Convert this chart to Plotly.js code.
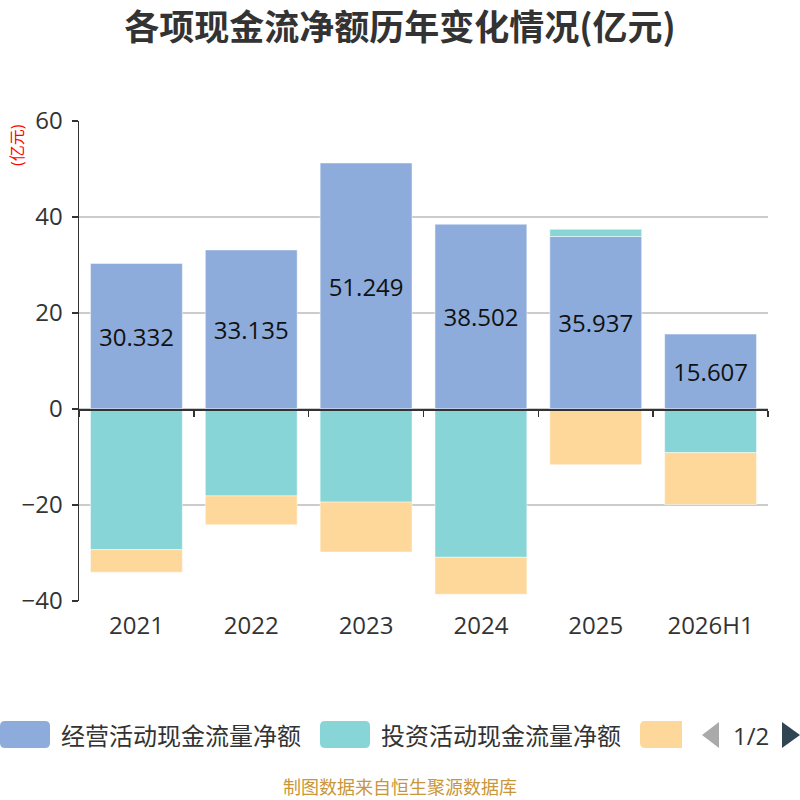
<!DOCTYPE html>
<html>
<head>
<meta charset="utf-8">
<script src="https://cdn.plot.ly/plotly-3.0.1.min.js"></script>
<style>html,body{margin:0;padding:0;background:#fff;}#chart{width:800px;height:800px;}</style>
</head>
<body>
<div id="chart"></div>
<script>
const years = ["2021", "2022", "2023", "2024", "2025", "2026H1"];
const operating = [30.332, 33.135, 51.249, 38.502, 35.937, 15.607];
const investing = [-29.3, -18.1, -19.4, -30.9, 1.5, -9.1];
const financing = [-4.7, -6.0, -10.4, -7.7, -11.6, -10.8];
const seriesNames = ["经营活动现金流量净额", "投资活动现金流量净额", "筹资活动现金流量净额"];
const colors = ["#8eacdb", "#88d5d8", "#fed89b"];

const FONT = "'Open Sans', 'Noto Sans CJK SC', sans-serif";
const W = 800, H = 800, L = 79, R = 32, T = 121, B = 199;
const pw = W - L - R, ph = H - T - B;
const px = v => (v - L) / pw;
const py = v => (H - B - v) / ph;

// rounded rectangle path in paper coords, from pixel box
function roundRect(x0, y0, x1, y1, r, roundRight) {
  const rr = roundRight ? r : 0;
  return `M${px(x0 + r)},${py(y0)} L${px(x1 - rr)},${py(y0)} Q${px(x1)},${py(y0)} ${px(x1)},${py(y0 + rr)} ` +
         `L${px(x1)},${py(y1 - rr)} Q${px(x1)},${py(y1)} ${px(x1 - rr)},${py(y1)} ` +
         `L${px(x0 + r)},${py(y1)} Q${px(x0)},${py(y1)} ${px(x0)},${py(y1 - r)} ` +
         `L${px(x0)},${py(y0 + r)} Q${px(x0)},${py(y0)} ${px(x0 + r)},${py(y0)} Z`;
}

const edge = {color: "rgba(255,255,255,0.6)", width: 0.8};
const traces = [
  {type: "bar", name: seriesNames[0], x: years, y: operating, marker: {color: colors[0], line: edge},
   text: operating.map(v => v.toFixed(3)), textposition: "inside", insidetextanchor: "middle",
   textfont: {size: 24, color: "#111", family: FONT}, constraintext: "none", showlegend: false},
  {type: "bar", name: seriesNames[1], x: years, y: investing, marker: {color: colors[1], line: edge}, showlegend: false},
  {type: "bar", name: seriesNames[2], x: years, y: financing, marker: {color: colors[2], line: edge}, showlegend: false},
  {type: "scatter", x: years, y: years.map(() => null), xaxis: "x2", yaxis: "y", mode: "markers",
   hoverinfo: "skip", showlegend: false}
];

const shapes = [
  {type: "path", xref: "paper", yref: "paper", path: roundRect(0, 721, 50, 748, 5, true), fillcolor: colors[0], line: {width: 0}},
  {type: "path", xref: "paper", yref: "paper", path: roundRect(320, 721, 370, 748, 5, true), fillcolor: colors[1], line: {width: 0}},
  {type: "path", xref: "paper", yref: "paper", path: roundRect(640, 721, 682, 748, 5, false), fillcolor: colors[2], line: {width: 0}},
  {type: "path", xref: "paper", yref: "paper",
   path: `M${px(719)},${py(722)} L${px(702)},${py(735)} L${px(719)},${py(748)} Z`, fillcolor: "#aaaaaa", line: {width: 0}},
  {type: "path", xref: "paper", yref: "paper",
   path: `M${px(782)},${py(722)} L${px(800)},${py(735)} L${px(782)},${py(748)} Z`, fillcolor: "#2f4554", line: {width: 0}}
];

const annotations = [
  {xref: "paper", yref: "paper", x: px(59), y: py(735), xanchor: "left", yanchor: "middle", showarrow: false,
   text: seriesNames[0], font: {size: 24, color: "#333", family: FONT}},
  {xref: "paper", yref: "paper", x: px(379), y: py(735), xanchor: "left", yanchor: "middle", showarrow: false,
   text: seriesNames[1], font: {size: 24, color: "#333", family: FONT}},
  {xref: "paper", yref: "paper", x: px(751), y: py(735), xanchor: "center", yanchor: "middle", showarrow: false,
   text: "1/2", font: {size: 24, color: "#333", family: FONT}},
  {xref: "paper", yref: "paper", x: px(17), y: py(145), xanchor: "center", yanchor: "middle", showarrow: false,
   text: "(亿元)", textangle: -90, font: {size: 16, color: "#ff0000", family: FONT}},
  {xref: "paper", yref: "paper", x: px(400), y: py(787), xanchor: "center", yanchor: "middle", showarrow: false,
   text: "制图数据来自恒生聚源数据库", font: {size: 18, color: "#c9963a", family: FONT}}
];

const layout = {
  width: W, height: H,
  margin: {l: L, r: R, t: T, b: B, pad: 0},
  paper_bgcolor: "#fff", plot_bgcolor: "#fff",
  font: {family: FONT, color: "#333"},
  title: {text: "<b>各项现金流净额历年变化情况(亿元)</b>", x: 0.5, xanchor: "center", y: 1 - 28 / 800, yanchor: "middle",
          yref: "container", font: {size: 35, color: "#333", family: "'Noto Sans CJK SC', sans-serif"}},
  barmode: "relative", bargap: 0.2,
  xaxis: {type: "category", range: [-0.5, 5.5], showline: false, ticks: "", showgrid: false, zeroline: false,
          tickfont: {size: 24, color: "#333", family: FONT}, ticklabelstandoff: 8, fixedrange: true},
  xaxis2: {type: "category", overlaying: "x", anchor: "free", position: 0.4, range: [-0.5, 5.5],
           showline: true, linecolor: "#333", linewidth: 1.5, ticks: "outside", ticklen: 6, tickwidth: 1.5,
           tickcolor: "#333", tickson: "boundaries", showticklabels: false, showgrid: false, zeroline: false},
  yaxis: {range: [-40, 60], dtick: 20, tick0: 0, showline: true, linecolor: "#333", linewidth: 1.5,
          ticks: "outside", ticklen: 6, tickwidth: 1.5, tickcolor: "#333", gridcolor: "#cccccc", gridwidth: 1.5,
          zeroline: false, tickfont: {size: 24, color: "#333", family: FONT}, ticklabelstandoff: 4},
  shapes: shapes,
  annotations: annotations,
  showlegend: false
};

Plotly.newPlot("chart", traces, layout, {displayModeBar: false, staticPlot: true});
</script>
</body>
</html>
